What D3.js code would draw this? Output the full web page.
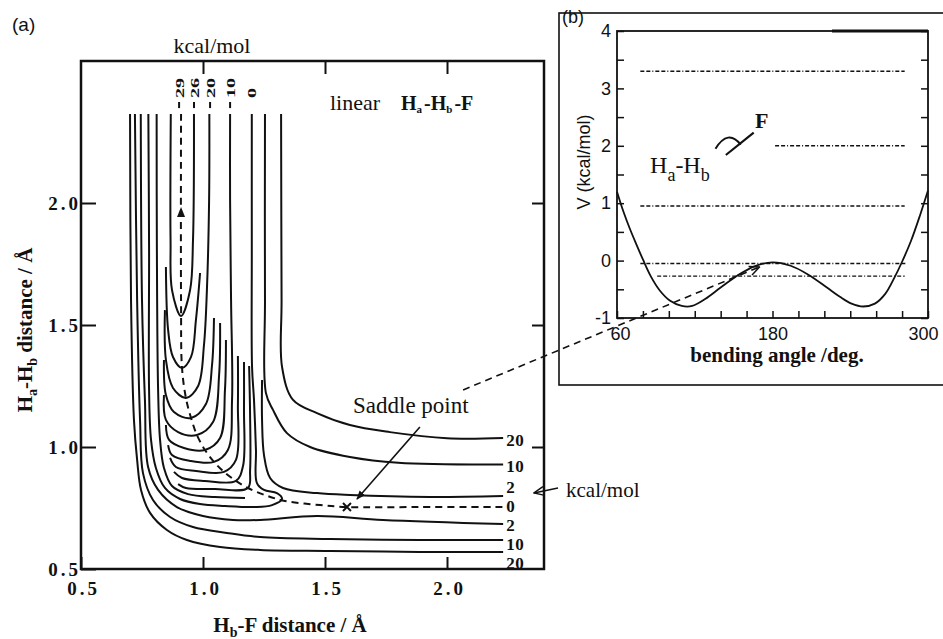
<!DOCTYPE html>
<html>
<head>
<meta charset="utf-8">
<script src="https://cdn.jsdelivr.net/npm/d3@7"></script>
<style>
  body { margin: 0; background: #ffffff; }
  svg { display: block; }
</style>
</head>
<body>
<div id="chart"></div>
<script>
// Panel (a): contours of the linear Ha-Hb-F surface, points are [Hb-F, Ha-Hb] in Angstrom
var lower20 = [[0.701,2.365],[0.705,1.602],[0.717,1.111],[0.730,0.947],[0.746,0.824],[0.783,0.730],[0.852,0.660],[0.934,0.619],[1.070,0.590],[1.234,0.578],[1.520,0.574],[1.889,0.570],[2.230,0.570]];
var lower10 = [[0.721,2.365],[0.730,1.602],[0.742,1.111],[0.754,0.893],[0.795,0.783],[0.865,0.713],[0.959,0.672],[1.098,0.648],[1.234,0.631],[1.520,0.623],[1.889,0.619],[2.230,0.619]];
var lower2 = [[0.745,2.365],[0.750,1.602],[0.762,1.193],[0.775,0.918],[0.816,0.824],[0.893,0.754],[1.000,0.717],[1.123,0.701],[1.234,0.701],[1.467,0.717],[1.738,0.701],[2.230,0.684]];
var zeroLoop = [[0.776,2.365],[0.779,1.807],[0.779,1.234],[0.787,1.029],[0.807,0.914],[0.844,0.832],[0.906,0.787],[0.988,0.766],[1.090,0.758],[1.213,0.754],[1.283,0.762],[1.324,0.787],[1.303,0.811],[1.250,0.824],[1.221,0.852],[1.217,0.988],[1.209,1.193],[1.201,1.328],[1.200,1.807],[1.200,2.365]];
var upper2 = [[2.230,0.799],[1.930,0.795],[1.602,0.803],[1.467,0.811],[1.328,0.832],[1.275,0.873],[1.250,0.967],[1.242,1.111],[1.242,1.275]];
var upper10 = [[1.254,2.365],[1.254,1.602],[1.258,1.221],[1.287,1.152],[1.344,1.057],[1.439,1.000],[1.602,0.959],[1.800,0.935],[2.230,0.928]];
var upper20 = [[1.320,2.365],[1.322,1.602],[1.324,1.328],[1.369,1.193],[1.467,1.139],[1.602,1.090],[1.766,1.061],[2.000,1.036],[2.230,1.037]];

// nested contours of the HF valley
var valleyOuter = [[0.810,2.365],[0.811,1.807],[0.816,1.234],[0.824,1.029],[0.840,0.914],[0.873,0.840],[0.939,0.807],[1.049,0.795],[1.172,0.791]];
var valley1 = [[0.868,2.365],[0.867,1.848],[0.873,1.643],[0.910,1.537],[0.947,1.643],[0.959,1.848],[0.963,2.365]];
var valley2 = [[0.848,1.738],[0.857,1.480],[0.877,1.369],[0.914,1.324],[0.951,1.369],[0.971,1.520],[0.988,1.713]];
var valley3 = [[0.844,1.561],[0.848,1.357],[0.877,1.242],[0.930,1.201],[0.980,1.250],[1.004,1.418],[1.016,1.643],[1.025,2.012],[1.026,2.365]];
var valley4 = [[0.840,1.357],[0.848,1.213],[0.881,1.143],[0.951,1.119],[1.012,1.176],[1.037,1.336],[1.045,1.529]];
var valley5 = [[0.840,1.213],[0.848,1.111],[0.898,1.061],[0.975,1.049],[1.041,1.102],[1.066,1.295],[1.070,1.508]];
var valley6 = [[0.848,1.090],[0.861,1.029],[0.922,0.996],[1.008,0.988],[1.070,1.037],[1.090,1.234],[1.094,1.439]];
var valley7 = [[0.857,1.008],[0.873,0.967],[0.947,0.943],[1.045,0.939],[1.102,0.988],[1.119,1.193],[1.115,1.602],[1.111,2.012],[1.111,2.365]];
var valley8 = [[0.865,0.955],[0.889,0.918],[0.971,0.902],[1.086,0.898],[1.135,0.947],[1.143,1.172],[1.143,1.373]];
var valley9 = [[0.881,0.898],[0.914,0.873],[1.008,0.861],[1.135,0.861],[1.164,0.922],[1.168,1.152],[1.168,1.348]];
var valley10 = [[0.898,0.848],[0.930,0.832],[1.049,0.828],[1.184,0.832],[1.193,0.906],[1.193,1.131],[1.189,1.332]];

// minimum energy path (dashed)
var mepPath = [[0.910,2.365],[0.910,1.602],[0.914,1.324],[0.930,1.201],[0.951,1.119],[0.975,1.049],[1.008,0.988],[1.045,0.939],[1.086,0.898],[1.135,0.861],[1.184,0.832],[1.254,0.803],[1.336,0.779],[1.480,0.762],[1.590,0.754],[1.889,0.754],[2.230,0.754]];
var saddle = [1.590, 0.754];

var xTicksA = [0.5, 1.0, 1.5, 2.0];
var yTicksA = [0.5, 1.0, 1.5, 2.0];
var topLabels = ["29", "26", "20", "10", "0"];
var topLabelX = [0.902, 0.963, 1.029, 1.111, 1.197];
var rightLabels = ["20", "10", "2", "0", "2", "10", "20"];
var rightLabelY = [1.029, 0.922, 0.836, 0.758, 0.681, 0.603, 0.525];

// Panel (b): bending potential
var bendAngle = [60,65,70,75,80,86,93,101,110,118,128,140,153,166,180,194,208,222,232,241,250,259,267,274,280,287,294,300];
var bendV = [1.20,0.85,0.55,0.28,0.02,-0.27,-0.52,-0.70,-0.79,-0.79,-0.67,-0.47,-0.26,-0.10,-0.03,-0.09,-0.25,-0.47,-0.63,-0.75,-0.80,-0.75,-0.58,-0.30,-0.02,0.35,0.80,1.22];
var levelV = [3.30, 2.00, 0.95, -0.05, -0.27];
var levelFrom = [78, 182, 78, 78, 91];
var levelTo = [282, 282, 282, 283, 282];
var xTicksB = [60, 180, 300];

var serif = "'Liberation Serif', 'Times New Roman', serif";
var sans = "'Liberation Sans', Arial, sans-serif";
var ink = "#111";

var svg = d3.select("#chart").append("svg")
  .attr("width", 943)
  .attr("height", 639)
  .style("background", "#fff");

var defs = svg.append("defs");
defs.append("marker")
  .attr("id", "openHead").attr("viewBox", "0 0 12 12").attr("refX", 11).attr("refY", 6)
  .attr("markerWidth", 12).attr("markerHeight", 12).attr("markerUnits", "userSpaceOnUse").attr("orient", "auto")
  .append("path").attr("d", "M1,1.5 L11,6 L1,10.5").attr("fill", "none").attr("stroke", ink).attr("stroke-width", 1.5);
defs.append("marker")
  .attr("id", "solidHead").attr("viewBox", "0 0 10 10").attr("refX", 9).attr("refY", 5)
  .attr("markerWidth", 9).attr("markerHeight", 9).attr("markerUnits", "userSpaceOnUse").attr("orient", "auto")
  .append("path").attr("d", "M0,1 L10,5 L0,9 Z").attr("fill", ink);

// ---------- panel (a) ----------
var xA = d3.scaleLinear().domain([0.5, 2.3975]).range([81, 544]);
var yA = d3.scaleLinear().domain([0.5, 2.582]).range([569, 61]);

var lineA = d3.line()
  .x(d => xA(d[0]))
  .y(d => yA(d[1]))
  .curve(d3.curveCatmullRom.alpha(0.5));

var contours = [lower20, lower10, lower2, zeroLoop, upper2, upper10, upper20, valleyOuter,
  valley1, valley2, valley3, valley4, valley5, valley6, valley7, valley8, valley9, valley10];

var gA = svg.append("g");
gA.selectAll("path.contour")
  .data(contours)
  .join("path")
  .attr("class", "contour")
  .attr("d", lineA)
  .attr("fill", "none")
  .attr("stroke", ink)
  .attr("stroke-width", 2)
  .attr("stroke-linejoin", "round");

gA.append("path")
  .attr("d", lineA(mepPath))
  .attr("fill", "none")
  .attr("stroke", ink)
  .attr("stroke-width", 2)
  .attr("stroke-dasharray", "7,5");

// arrow head on the dashed path (pointing up)
var ax = xA(0.910), ay = yA(1.959);
gA.append("path")
  .attr("d", `M${ax},${ay - 6} L${ax + 4},${ay + 4} L${ax - 4},${ay + 4} Z`)
  .attr("fill", ink);

// saddle point cross
var sx = xA(saddle[0]), sy = yA(saddle[1]);
gA.append("path")
  .attr("d", `M${sx - 4},${sy - 4} L${sx + 4},${sy + 4} M${sx - 4},${sy + 4} L${sx + 4},${sy - 4}`)
  .attr("stroke", ink).attr("stroke-width", 2);

// frame and axes
gA.append("rect")
  .attr("x", 81).attr("y", 61).attr("width", 463).attr("height", 508)
  .attr("fill", "none").attr("stroke", ink).attr("stroke-width", 2.5);

function styleAxis(g) {
  g.select(".domain").remove();
  g.selectAll(".tick line").attr("stroke", ink).attr("stroke-width", 2);
}

svg.append("g")
  .attr("transform", "translate(81,0)")
  .call(d3.axisLeft(yA).tickValues(yTicksA).tickSize(-15).tickPadding(0).tickFormat(d3.format(".1f")))
  .call(styleAxis)
  .selectAll("text")
  .attr("font-family", serif).attr("font-weight", "bold").attr("font-size", 19)
  .style("letter-spacing", "3px").attr("fill", ink);

svg.append("g")
  .attr("transform", "translate(0,569)")
  .call(d3.axisBottom(xA).tickValues(xTicksA).tickSize(-12).tickPadding(13).tickFormat(d3.format(".1f")))
  .call(styleAxis)
  .selectAll("text")
  .attr("font-family", serif).attr("font-weight", "bold").attr("font-size", 19)
  .attr("dx", 2)
  .style("letter-spacing", "3px").attr("fill", ink);

svg.append("g")
  .attr("transform", "translate(0,61)")
  .call(d3.axisTop(xA).tickValues([1.0, 1.5, 2.0]).tickSize(-13).tickFormat(""))
  .call(styleAxis);

svg.append("g")
  .attr("transform", "translate(544,0)")
  .call(d3.axisRight(yA).tickValues([1.0, 1.5, 2.0]).tickSize(-12).tickFormat(""))
  .call(styleAxis);

// contour labels at the top (rotated, stretched along the text) with their small marks
topLabels.forEach(function(t, i) {
  gA.append("text")
    .attr("transform", `translate(${xA(topLabelX[i])},${yA(2.43)}) rotate(-90) scale(1.55,1)`)
    .attr("dy", "0.35em")
    .attr("font-family", serif).attr("font-weight", "bold").attr("font-size", 13)
    .attr("fill", ink)
    .text(t);
  if (i < 4) {
    gA.append("line")
      .attr("x1", xA(topLabelX[i])).attr("x2", xA(topLabelX[i]))
      .attr("y1", yA(2.414)).attr("y2", yA(2.389))
      .attr("stroke", ink).attr("stroke-width", 2);
  }
});

// contour labels at the right end
rightLabels.forEach(function(t, i) {
  gA.append("text")
    .attr("x", xA(2.230) + 3)
    .attr("y", yA(rightLabelY[i]))
    .attr("dy", "0.35em")
    .attr("font-family", serif).attr("font-weight", "bold").attr("font-size", 17)
    .style("letter-spacing", "0.5px")
    .attr("fill", ink)
    .text(t);
});

// annotations
svg.append("text").attr("x", 12).attr("y", 31)
  .attr("font-family", sans).attr("font-size", 19).attr("fill", ink).text("(a)");

svg.append("text").attr("x", 212).attr("y", 53).attr("text-anchor", "middle")
  .attr("font-family", serif).attr("font-size", 22).attr("fill", ink).text("kcal/mol");

svg.append("text").attr("x", 330).attr("y", 110)
  .attr("font-family", serif).attr("font-size", 22).attr("fill", ink).text("linear");

var molA = svg.append("text").attr("x", 401).attr("y", 110)
  .attr("font-family", serif).attr("font-weight", "bold").attr("font-size", 20).attr("fill", ink);
molA.append("tspan").text("H");
molA.append("tspan").attr("font-size", 11).attr("dy", 3).text("a");
molA.append("tspan").attr("dy", -3).attr("dx", 2).text("-H");
molA.append("tspan").attr("font-size", 11).attr("dy", 3).text("b");
molA.append("tspan").attr("dy", -3).attr("dx", 2).text("-F");

svg.append("text").attr("x", 353).attr("y", 413)
  .attr("font-family", serif).attr("font-size", 23).attr("fill", ink).text("Saddle point");

svg.append("line")
  .attr("x1", xA(1.889)).attr("y1", yA(1.082))
  .attr("x2", xA(1.631)).attr("y2", yA(0.787))
  .attr("stroke", ink).attr("stroke-width", 1.6)
  .attr("marker-end", "url(#solidHead)");

svg.append("text").attr("x", 566).attr("y", 497)
  .attr("font-family", serif).attr("font-size", 21).attr("fill", ink).text("kcal/mol");
svg.append("line")
  .attr("x1", 558).attr("y1", 488).attr("x2", 534).attr("y2", 493)
  .attr("stroke", ink).attr("stroke-width", 1.5)
  .attr("marker-end", "url(#openHead)");

// axis titles
var yTitle = svg.append("text")
  .attr("transform", "translate(32,330) rotate(-90)")
  .attr("text-anchor", "middle")
  .attr("font-family", serif).attr("font-weight", "bold").attr("font-size", 21).attr("fill", ink);
yTitle.append("tspan").text("H");
yTitle.append("tspan").attr("font-size", 14).attr("dy", 5).text("a");
yTitle.append("tspan").attr("dy", -5).text("-H");
yTitle.append("tspan").attr("font-size", 14).attr("dy", 5).text("b");
yTitle.append("tspan").attr("dy", -5).text(" distance / Å");

var xTitle = svg.append("text")
  .attr("x", 290).attr("y", 632)
  .attr("text-anchor", "middle")
  .attr("font-family", serif).attr("font-weight", "bold").attr("font-size", 21).attr("fill", ink);
xTitle.append("tspan").text("H");
xTitle.append("tspan").attr("font-size", 14).attr("dy", 5).text("b");
xTitle.append("tspan").attr("dy", -5).text("-F distance / Å");

// ---------- panel (b) ----------
var xB = d3.scaleLinear().domain([60, 300]).range([617, 928]);
var yB = d3.scaleLinear().domain([-1, 4]).range([318, 31]);

svg.append("rect")
  .attr("x", 559).attr("y", 13).attr("width", 400).attr("height", 372)
  .attr("fill", "#fff").attr("stroke", ink).attr("stroke-width", 1.6);

svg.append("text").attr("x", 562).attr("y", 23)
  .attr("font-family", sans).attr("font-size", 18).attr("fill", ink).text("(b)");

var gB = svg.append("g");

// dotted vibrational levels
gB.selectAll("line.level")
  .data(levelV)
  .join("line")
  .attr("class", "level")
  .attr("x1", (d, i) => xB(levelFrom[i]))
  .attr("x2", (d, i) => xB(levelTo[i]))
  .attr("y1", d => yB(d))
  .attr("y2", d => yB(d))
  .attr("stroke", ink)
  .attr("stroke-width", 1.4)
  .attr("stroke-dasharray", "4,2,4,2,1,2");

var lineB = d3.line()
  .x(d => xB(d[0]))
  .y(d => yB(d[1]))
  .curve(d3.curveCatmullRom.alpha(0.5));

gB.append("path")
  .attr("d", lineB(bendAngle.map((a, i) => [a, bendV[i]])))
  .attr("fill", "none")
  .attr("stroke", ink)
  .attr("stroke-width", 1.8);

gB.append("rect")
  .attr("x", 617).attr("y", 31).attr("width", 311).attr("height", 287)
  .attr("fill", "none").attr("stroke", ink).attr("stroke-width", 1.8);
gB.append("line")
  .attr("x1", 832).attr("x2", 928).attr("y1", 31).attr("y2", 31)
  .attr("stroke", ink).attr("stroke-width", 3);

svg.append("g")
  .attr("transform", "translate(617,0)")
  .call(d3.axisLeft(yB).tickValues(d3.range(-1, 4.01, 0.5)).tickSize(-7).tickPadding(6)
    .tickFormat(d => Number.isInteger(d) ? String(d) : ""))
  .call(styleAxis)
  .call(g => g.selectAll(".tick line").attr("stroke-width", 1.5))
  .selectAll("text")
  .attr("font-family", sans).attr("font-size", 18).attr("fill", ink);

svg.append("g")
  .attr("transform", "translate(928,0)")
  .call(d3.axisRight(yB).tickValues(d3.range(-1, 4.01, 0.5)).tickSize(-7).tickFormat(""))
  .call(styleAxis)
  .call(g => g.selectAll(".tick line").attr("stroke-width", 1.5));

svg.append("g")
  .attr("transform", "translate(0,318)")
  .call(d3.axisBottom(xB).tickValues(d3.range(60, 301, 20)).tickSize(-7).tickPadding(9)
    .tickFormat(d => xTicksB.indexOf(d) >= 0 ? String(d) : ""))
  .call(styleAxis)
  .call(g => g.selectAll(".tick line").attr("stroke-width", 1.5))
  .selectAll("text")
  .attr("font-family", sans).attr("font-size", 18).attr("fill", ink)
  .attr("dx", d => d === 60 ? 3 : (d === 300 ? -5 : 0));

svg.append("text")
  .attr("transform", "translate(590,162) rotate(-90)")
  .attr("text-anchor", "middle")
  .attr("font-family", sans).attr("font-size", 18).attr("fill", ink)
  .text("V (kcal/mol)");

svg.append("text")
  .attr("x", 777).attr("y", 362)
  .attr("text-anchor", "middle")
  .attr("font-family", serif).attr("font-weight", "bold").attr("font-size", 21).attr("fill", ink)
  .text("bending angle /deg.");

// bent molecule sketch
var molB = svg.append("text").attr("x", xB(85.5)).attr("y", yB(1.526))
  .attr("font-family", serif).attr("font-size", 24).attr("fill", ink);
molB.append("tspan").text("H");
molB.append("tspan").attr("font-size", 18).attr("dy", 8).text("a");
molB.append("tspan").attr("dy", -8).text("-H");
molB.append("tspan").attr("font-size", 18).attr("dy", 8).text("b");

svg.append("text").attr("x", xB(166.5)).attr("y", yB(2.31))
  .attr("font-family", serif).attr("font-weight", "bold").attr("font-size", 22).attr("fill", ink).text("F");

svg.append("path")
  .attr("d", `M${xB(136.0)},${yB(1.95)} Q${xB(145.7)},${yB(2.30)} ${xB(155.5)},${yB(2.02)}`)
  .attr("fill", "none").attr("stroke", ink).attr("stroke-width", 2);
svg.append("line")
  .attr("x1", xB(144.0)).attr("y1", yB(1.84))
  .attr("x2", xB(165.5)).attr("y2", yB(2.23))
  .attr("stroke", ink).attr("stroke-width", 2.2);

// dashed link from the saddle point into panel (b)
svg.append("line")
  .attr("x1", xA(2.066)).attr("y1", yA(1.234))
  .attr("x2", xB(170)).attr("y2", yB(-0.11))
  .attr("stroke", ink).attr("stroke-width", 1.6)
  .attr("stroke-dasharray", "7,5")
  .attr("marker-end", "url(#openHead)");
</script>
</body>
</html>
